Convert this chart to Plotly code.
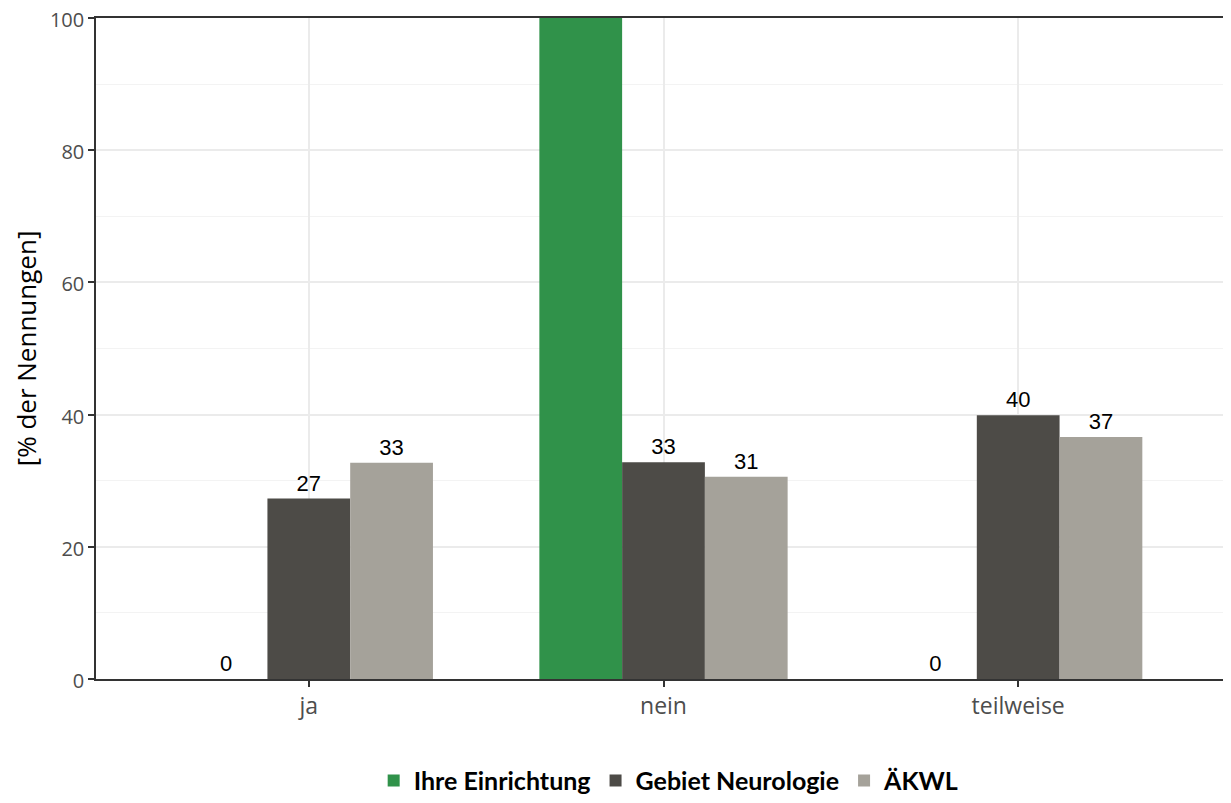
import plotly.graph_objects as go

categories = ["ja", "nein", "teilweise"]
series_names = ["Ihre Einrichtung", "Gebiet Neurologie", "ÄKWL"]
ihre = [0, 100, 0]
neuro = [27.3, 32.8, 39.9]
aekwl = [32.7, 30.6, 36.6]
colors = ["#30924A", "#4D4B47", "#A5A29A"]
y_max = 100

x_idx = [1, 2, 3]
fig = go.Figure()
for name, vals, col in zip(series_names, [ihre, neuro, aekwl], colors):
    # labels above the panel top are clipped away in the original
    labels = [f"{v:.0f}" if v < y_max else "" for v in vals]
    fig.add_trace(go.Bar(
        x=x_idx, y=vals, name=name, marker=dict(color=col, line=dict(width=0)),
        text=labels, textposition="outside",
        textfont=dict(family="Liberation Sans, Arial", size=22, color="black"),
        cliponaxis=True, constraintext="none",
    ))

# page has an 8px body margin, so the figure is sized to fill the rest
fig.update_layout(
    barmode="group", bargap=0.3, bargroupgap=0,
    width=1223, height=795,
    margin=dict(l=88, r=0, t=10, b=124),
    plot_bgcolor="white", paper_bgcolor="white",
    font=dict(family="Open Sans", size=22, color="#4D4D4D"),
    showlegend=True,
    legend=dict(orientation="h", x=0.505, xanchor="center",
                yref="container", y=0.028, yanchor="middle",
                font=dict(family="Lato", size=25, color="black", weight="bold"),
                traceorder="normal"),
)
fig.update_xaxes(
    range=[0.4, 3.6], tickmode="array", tickvals=x_idx, ticktext=categories,
    showline=True, linecolor="#333333", linewidth=1.5, mirror=True,
    ticks="outside", ticklen=6, tickcolor="#333333", tickwidth=2,
    showgrid=True, gridcolor="#EBEBEB", gridwidth=2,
    tickfont=dict(size=23, color="#4D4D4D"), zeroline=False, automargin=False,
)
fig.update_yaxes(
    range=[0, y_max], tickvals=[0, 20, 40, 60, 80, 100],
    showline=True, linecolor="#333333", linewidth=1.5,
    ticks="outside", ticklen=6, tickcolor="#333333", tickwidth=2,
    showgrid=True, gridcolor="#EBEBEB", gridwidth=2,
    minor=dict(tickvals=[10, 30, 50, 70, 90], showgrid=True, gridcolor="#F3F3F3", gridwidth=1, ticks=""),
    title=dict(text="[% der Nennungen]", font=dict(size=26, color="black"), standoff=6),
    tickfont=dict(size=20, color="#4D4D4D"), zeroline=False,
    ticklabeloverflow="allow", automargin=False, ticklabelshift=2,
)
fig.write_html("out.html")
